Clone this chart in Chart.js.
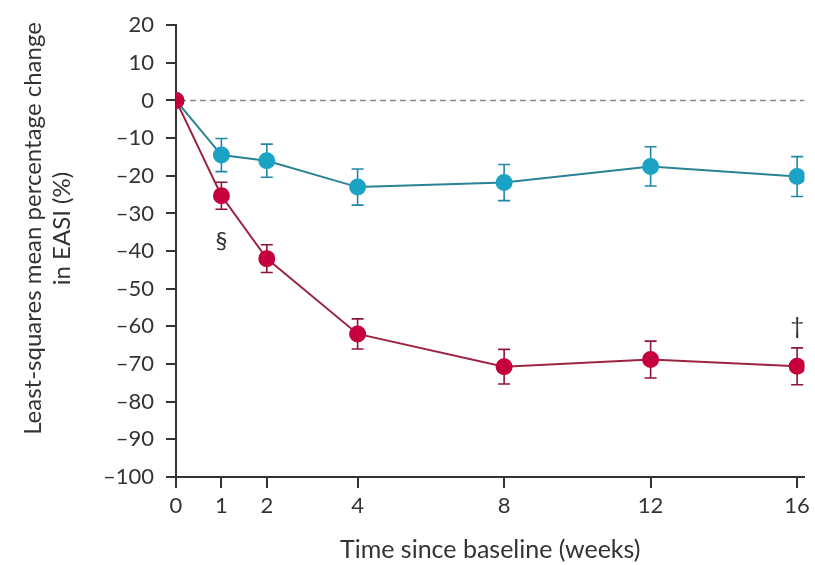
<!DOCTYPE html>
<html>
<head>
<meta charset="utf-8">
<script src="https://cdn.jsdelivr.net/npm/chart.js@4/dist/chart.umd.min.js"></script>
<style>
  html, body { margin: 0; padding: 0; background: #fff; }
  #wrap { width: 815px; height: 565px; }
</style>
</head>
<body>
<div id="wrap"><canvas id="plotarea"></canvas></div>
<script>
// weeks since baseline
const weeks = [0, 1, 2, 4, 8, 12, 16];
const weekTicks = [0, 1, 2, 4, 8, 12, 16];

// least-squares mean % change in EASI, with error
const placeboMean = [0, -14.5, -16, -23, -21.8, -17.5, -20.2];
const placeboErr  = [0, 4.4, 4.4, 4.8, 4.8, 5.2, 5.3];
const activeMean  = [0, -25.3, -42, -62, -70.7, -68.8, -70.6];
const activeErr   = [0, 3.6, 3.7, 4.0, 4.6, 4.9, 4.9];

// significance marks
const marks = [
  { week: 1, value: -37.5, text: '§' },
  { week: 16, value: -60, text: '†' }
];

const textColor = '#333';
const fontFamily = 'Lato, "Open Sans", sans-serif';

// x axis: weeks 0-4 stretched out, 4-16 compressed
const BREAK_AT = 4;
const BREAK_FRAC = 0.289;

class SplitLinearScale extends Chart.LinearScale {
  static id = 'splitLinear';
  static defaults = Chart.LinearScale.defaults;
  toDecimal(v) {
    if (v <= BREAK_AT) return (v - this.min) / (BREAK_AT - this.min) * BREAK_FRAC;
    return BREAK_FRAC + (v - BREAK_AT) / (this.max - BREAK_AT) * (1 - BREAK_FRAC);
  }
  getPixelForValue(v) {
    return this.getPixelForDecimal(this.toDecimal(v));
  }
  getValueForPixel(p) {
    const d = this.getDecimalForPixel(p);
    if (d <= BREAK_FRAC) return this.min + d / BREAK_FRAC * (BREAK_AT - this.min);
    return BREAK_AT + (d - BREAK_FRAC) / (1 - BREAK_FRAC) * (this.max - BREAK_AT);
  }
}
Chart.register(SplitLinearScale);

const toPoints = (vals) => weeks.map((w, i) => ({ x: w, y: vals[i] }));

// dashed zero line + error bars behind the markers
const behindPlugin = {
  id: 'behind',
  beforeDatasetsDraw(chart) {
    const { ctx, chartArea, scales } = chart;
    const x = scales.x, y = scales.y;
    ctx.save();
    ctx.strokeStyle = '#8a8a8a';
    ctx.lineWidth = 1.6;
    ctx.setLineDash([6, 4]);
    const y0 = y.getPixelForValue(0);
    ctx.beginPath();
    ctx.moveTo(chartArea.left + 4, y0);
    ctx.lineTo(chartArea.right, y0);
    ctx.stroke();
    ctx.setLineDash([]);

    chart.data.datasets.forEach(ds => {
      ctx.strokeStyle = ds.errColor;
      ctx.lineWidth = 1.6;
      ds.data.forEach((p, i) => {
        const e = ds.err[i];
        if (!e) return;
        const px = x.getPixelForValue(p.x);
        const top = y.getPixelForValue(p.y + e);
        const bot = y.getPixelForValue(p.y - e);
        ctx.beginPath();
        ctx.moveTo(px, top); ctx.lineTo(px, bot);
        ctx.moveTo(px - 6, top); ctx.lineTo(px + 6, top);
        ctx.moveTo(px - 6, bot); ctx.lineTo(px + 6, bot);
        ctx.stroke();
      });
    });
    ctx.restore();
  }
};

// symbols and y title
const textPlugin = {
  id: 'texts',
  afterDraw(chart) {
    const { ctx, chartArea, scales } = chart;
    ctx.save();
    ctx.fillStyle = textColor;
    ctx.textAlign = 'center';
    ctx.textBaseline = 'middle';
    ctx.font = '24px ' + fontFamily;
    marks.forEach(m => {
      ctx.fillText(m.text, scales.x.getPixelForValue(m.week), scales.y.getPixelForValue(m.value));
    });

    const cy = chartArea.top + (chartArea.bottom - chartArea.top) * 0.45;
    ctx.font = '24px ' + fontFamily;
    ctx.translate(33, cy);
    ctx.rotate(-Math.PI / 2);
    ctx.fillText('Least-squares mean percentage change', 0, 0);
    ctx.fillText('in EASI (%)', 0, 29);
    ctx.restore();
  }
};

const config = {
  type: 'line',
  data: {
    datasets: [
      {
        label: 'Placebo',
        data: toPoints(placeboMean),
        err: placeboErr,
        errColor: '#1f86a8',
        borderColor: '#2a8394',
        backgroundColor: '#1ba3c6',
        pointBackgroundColor: '#1ba3c6',
        pointBorderColor: '#1ba3c6',
        borderWidth: 2,
        pointRadius: 7.5,
        tension: 0,
        order: 2
      },
      {
        label: 'Active',
        data: toPoints(activeMean),
        err: activeErr,
        errColor: '#8e1536',
        borderColor: '#9c2443',
        backgroundColor: '#c5003c',
        pointBackgroundColor: '#c5003c',
        pointBorderColor: '#c5003c',
        borderWidth: 2,
        pointRadius: 7.5,
        tension: 0,
        order: 1
      }
    ]
  },
  options: {
    responsive: true,
    maintainAspectRatio: false,
    animation: false,
    layout: { padding: { top: 25, right: 10, left: 0, bottom: 0 } },
    plugins: {
      legend: { display: false },
      tooltip: { enabled: false }
    },
    scales: {
      x: {
        type: 'splitLinear',
        min: 0,
        max: 16.2,
        afterBuildTicks: s => { s.ticks = weekTicks.map(v => ({ value: v })); },
        afterFit: s => { s.height = 88; },
        border: { color: '#333', width: 2 },
        grid: { drawOnChartArea: false, tickLength: 11, color: '#333', lineWidth: 2 },
        ticks: { color: textColor, font: { family: fontFamily, size: 22 }, padding: 5, maxRotation: 0 },
        title: {
          display: true,
          text: 'Time since baseline (weeks)',
          color: textColor,
          font: { family: fontFamily, size: 25 },
          padding: { top: 10, bottom: 0 }
        }
      },
      y: {
        type: 'linear',
        min: -100,
        max: 20,
        afterFit: s => { s.width = 176; },
        border: { color: '#333', width: 2 },
        grid: { drawOnChartArea: false, tickLength: 10, color: '#333', lineWidth: 2 },
        ticks: {
          stepSize: 10,
          color: textColor,
          font: { family: fontFamily, size: 22 },
          padding: 12,
          callback: v => (v < 0 ? '\u2013' + Math.abs(v) : String(v))
        }
      }
    }
  },
  plugins: [behindPlugin, textPlugin]
};

const myChart = new Chart(document.getElementById('plotarea'), config);
</script>
</body>
</html>
